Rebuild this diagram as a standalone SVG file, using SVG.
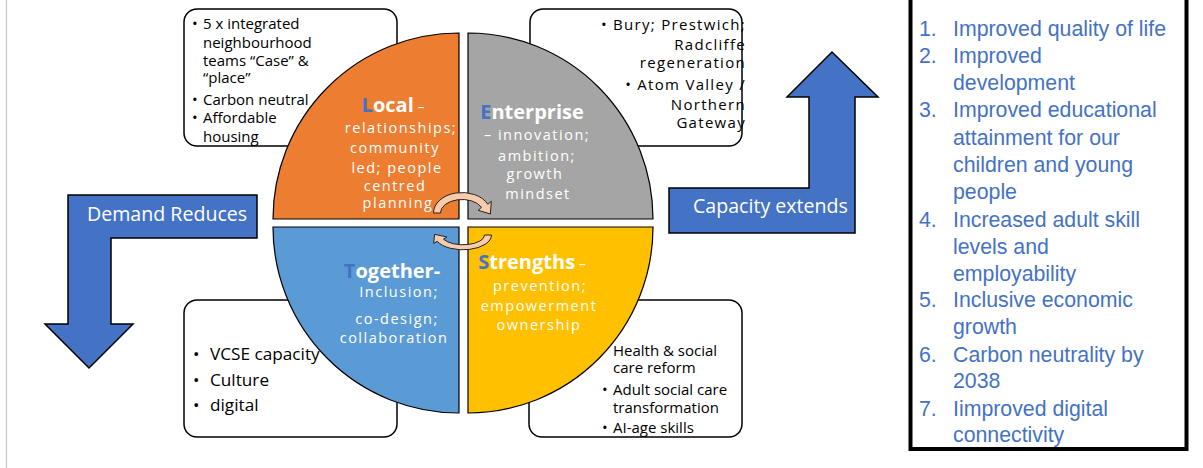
<svg xmlns="http://www.w3.org/2000/svg" width="1203" height="468" viewBox="0 0 1203 468">
<style>
.box{fill:#fff;stroke:#000;stroke-width:1.5}
.q{stroke:#000;stroke-width:1.2}
.qt{font-family:"Open Sans","Noto Sans",sans-serif;fill:#fff;font-size:14.5px;letter-spacing:1.5px;text-anchor:middle}
.qh{font-weight:bold;font-size:20px;letter-spacing:0px}
.hl{fill:#4472C4}
.bt{font-family:"Open Sans","Noto Sans",sans-serif;fill:#000;font-size:15px}
.bt2{font-family:"Open Sans","Noto Sans",sans-serif;fill:#000;font-size:17.2px}
.sp{letter-spacing:1.3px;text-anchor:end}
.big{fill:#4472C4;stroke:#000;stroke-width:1.5;stroke-linejoin:miter}
.at{font-family:"Open Sans","Noto Sans",sans-serif;fill:#fff;font-size:19.6px}
.lst{font-family:"Liberation Sans",Arial,sans-serif;fill:#4472C4;font-size:21.3px}
.ca{fill:#F8CBAD;stroke:#222;stroke-width:1}
</style>
<rect width="1203" height="468" fill="#fff"/>
<line x1="6.5" y1="0" x2="6.5" y2="468" stroke="#c8c8c8" stroke-width="1.2"/>

<g id="box-local">
<rect class="box" x="184" y="9" width="213" height="137" rx="13"/>
<g class="bt">
<text x="192" y="29">•</text><text x="203" y="29">5 x integrated</text>
<text x="203" y="48">neighbourhood</text>
<text x="203" y="66">teams “Case” &amp;</text>
<text x="203" y="83">“place”</text>
<text x="192" y="105">•</text><text x="203" y="105">Carbon neutral</text>
<text x="192" y="123">•</text><text x="203" y="123">Affordable</text>
<text x="203" y="142">housing</text>
</g>
</g>

<g id="box-enterprise">
<rect class="box" x="530" y="9" width="212" height="137" rx="13"/>
<g class="bt">
<text class="sp" x="746" y="30">• Bury; Prestwich;</text>
<text class="sp" x="746" y="50">Radcliffe</text>
<text class="sp" x="746" y="68">regeneration</text>
<text class="sp" x="746" y="90">• Atom Valley /</text>
<text class="sp" x="746" y="110">Northern</text>
<text class="sp" x="746" y="128">Gateway</text>
</g>
</g>

<g id="box-together">
<rect class="box" x="184" y="300" width="213" height="137" rx="13"/>
<g class="bt2">
<text x="193" y="360">•</text><text x="210" y="360">VCSE capacity</text>
<text x="193" y="386">•</text><text x="210" y="386">Culture</text>
<text x="193" y="411">•</text><text x="210" y="411">digital</text>
</g>
</g>

<g id="box-strengths">
<rect class="box" x="529" y="300" width="213" height="137" rx="13"/>
<g class="bt">
<text x="598" y="356">•</text><text x="613" y="356">Health &amp; social</text>
<text x="613" y="373">care reform</text>
<text x="602" y="395">•</text><text x="613" y="395">Adult social care</text>
<text x="613" y="413">transformation</text>
<text x="602" y="433">•</text><text x="613" y="433">AI-age skills</text>
</g>
</g>

<g id="demand-reduces">
<path class="big" d="M68,195 L257,195 L257,238 L111,238 L111,324 L133,324 L89,368 L45,324 L68,324 Z"/>
<text class="at" x="87" y="221">Demand Reduces</text>
</g>

<g id="capacity-extends">
<path class="big" d="M669,188 L809,188 L809,97 L787,97 L832,52 L878,97 L855,97 L855,233 L669,233 Z"/>
<text class="at" x="693" y="213">Capacity extends</text>
</g>

<g id="local">
<path class="q" fill="#ED7D31" d="M459,219 L273,219 A186,186 0 0 1 459,33 Z"/>
<g class="qt">
<text x="393" y="112"><tspan class="qh"><tspan class="hl">L</tspan>ocal</tspan><tspan font-size="14" letter-spacing="0"> –</tspan></text>
<text x="401" y="133">relationships;</text>
<text x="395" y="153">community</text>
<text x="397" y="173">led; people</text>
<text x="395" y="191">centred</text>
<text x="398" y="208">planning</text>
</g>
</g>

<g id="enterprise">
<path class="q" fill="#A5A5A5" d="M468,219 L653,219 A185,186 0 0 0 468,33 Z"/>
<g class="qt">
<text x="532" y="119" class="qh"><tspan class="hl">E</tspan>nterprise</text>
<text x="537" y="140">– innovation;</text>
<text x="537" y="161">ambition;</text>
<text x="535" y="179">growth</text>
<text x="538" y="199">mindset</text>
</g>
</g>

<g id="together">
<path class="q" fill="#5B9BD5" d="M459,227 L273,227 A186,186 0 0 0 459,413 Z"/>
<g class="qt">
<text x="392" y="278" class="qh"><tspan class="hl">T</tspan>ogether-</text>
<text x="399" y="297">Inclusion;</text>
<text x="397" y="324">co-design;</text>
<text x="394" y="343">collaboration</text>
</g>
</g>

<g id="strengths">
<path class="q" fill="#FFC000" d="M468,227 L653,227 A185,186 0 0 1 468,413 Z"/>
<g class="qt">
<text x="532" y="269"><tspan class="qh"><tspan class="hl">S</tspan>trengths</tspan><tspan font-size="14" letter-spacing="0"> –</tspan></text>
<text x="540" y="291">prevention;</text>
<text x="539" y="311">empowerment</text>
<text x="539" y="330">ownership</text>
</g>
</g>

<g id="connectors">
<path class="ca" d="M433.5,213 A28.5,20.5 0 0 1 487.8,204.3 L491.3,201.3 L490.4,214 L478.1,210.3 L481.5,207.3 A21.5,13.5 0 0 0 440.5,213 Z"/>
<path class="ca" vector-effect="non-scaling-stroke" transform="matrix(-1,0,0,-0.72,925,388.4)" d="M433.5,213 A28.5,20.5 0 0 1 487.8,204.3 L491.3,201.3 L490.4,214 L478.1,210.3 L481.5,207.3 A21.5,13.5 0 0 0 440.5,213 Z"/>
</g>

<g id="outcomes">
<rect x="910.5" y="-10" width="276" height="459" fill="#fff" stroke="#000" stroke-width="4"/>
<g class="lst">
<text x="919" y="36">1.</text><text x="953" y="36">Improved quality of life</text>
<text x="919" y="63">2.</text><text x="953" y="63">Improved</text>
<text x="953" y="90">development</text>
<text x="919" y="117">3.</text><text x="953" y="117">Improved educational</text>
<text x="953" y="145">attainment for our</text>
<text x="953" y="172">children and young</text>
<text x="953" y="199">people</text>
<text x="919" y="227">4.</text><text x="953" y="227">Increased adult skill</text>
<text x="953" y="254">levels and</text>
<text x="953" y="281">employability</text>
<text x="919" y="307">5.</text><text x="953" y="307">Inclusive economic</text>
<text x="953" y="334">growth</text>
<text x="919" y="362">6.</text><text x="953" y="362">Carbon neutrality by</text>
<text x="953" y="388">2038</text>
<text x="919" y="416">7.</text><text x="953" y="416">Iimproved digital</text>
<text x="953" y="442">connectivity</text>
</g>
</g>
</svg>
